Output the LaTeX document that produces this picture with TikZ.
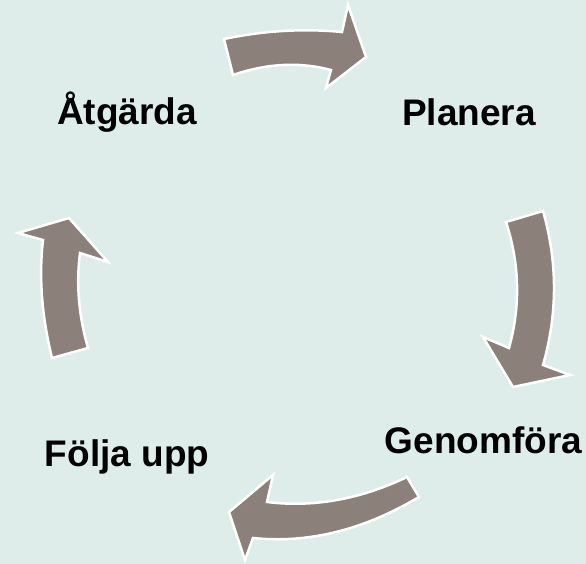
\documentclass[tikz,border=0pt]{standalone}
\usepackage{fontspec}
\setmainfont{Liberation Sans}
\definecolor{bgc}{RGB}{222,237,233}
\definecolor{arrowc}{RGB}{139,129,122}
\begin{document}
\begin{tikzpicture}[x=1pt,y=-1pt,
  cyclearrow/.style={fill=arrowc,draw=white,line width=2.5pt,line join=miter},
  lbl/.style={inner sep=0pt,anchor=base,font=\fontsize{37}{44}\selectfont\bfseries}]
\fill[bgc] (0,0) rectangle (586,564);
\useasboundingbox (0,0) rectangle (586,564);
% top arrow
\path[cyclearrow] (224,39) .. controls (263.3,30.7) and (302.7,28.3) .. (342,32) -- (348,5) -- (366,57) -- (326,88) -- (331,70) .. controls (299.7,61.7) and (267,63.3) .. (233,75) -- cycle;
% right arrow
\path[cyclearrow] (506,222) -- (543,211) .. controls (557.7,262.3) and (557.7,313.7) .. (543,365) -- (570,375) -- (513,387) -- (483,337) -- (509,348) .. controls (520.7,306) and (519.7,264) .. (506,222) -- cycle;
% bottom arrow
\path[cyclearrow] (407,477) -- (419,497) .. controls (363.7,530) and (308.3,543.7) .. (253,538) -- (245,560) -- (229,512) -- (273,475) -- (267,502) .. controls (313.7,507.7) and (360.3,499.3) .. (407,477) -- cycle;
% left arrow
\path[cyclearrow] (52,358) -- (88,348) .. controls (78.7,315.7) and (76,284) .. (80,253) -- (108,262) -- (69,218) -- (18,233) -- (43,240) .. controls (38.7,276.7) and (41.7,316) .. (52,358) -- cycle;
\node[lbl] (atgarda) at (127,125) {Åtgärda};
\node[lbl] (planera) at (469,125.5) {Planera};
\node[lbl] (genomfora) at (483.5,453) {Genomföra};
\node[lbl] (foljaupp) at (127,466) {Följa upp};
\end{tikzpicture}
\end{document}
